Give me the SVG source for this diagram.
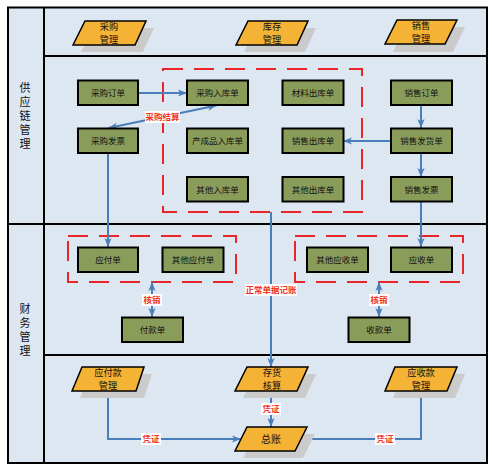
<svg xmlns="http://www.w3.org/2000/svg" width="492" height="466" viewBox="0 0 492 466">
<style>
.frame{fill:none;stroke:#000;stroke-width:2}
.sh{fill:#CBCBCB}
.para{fill:#F5B335;stroke:#000;stroke-width:1.5}
.box{fill:#8A9C5A;stroke:#000;stroke-width:2}
.pt{font-family:"Noto Sans CJK SC",sans-serif;font-size:9.2px;fill:#111;text-anchor:middle}
.pt1{font-family:"Noto Sans CJK SC",sans-serif;font-size:10px;fill:#111;text-anchor:middle}
.bt{font-family:"Noto Sans CJK SC",sans-serif;font-size:8.5px;fill:#111;text-anchor:middle}
.lt{font-family:"Noto Sans CJK SC",sans-serif;font-size:11px;fill:#111;writing-mode:vertical-rl;letter-spacing:3px}
.lab{font-family:"Noto Sans CJK SC",sans-serif;font-size:8.5px;font-weight:bold;fill:#F0361E;text-anchor:middle}
.lbg{fill:#fff}
.dash{fill:none;stroke:#E8262A;stroke-width:2;stroke-dasharray:20 11}
.c{fill:none;stroke:#4A7EBB;stroke-width:2}
.a{marker-end:url(#arr)}
.ab{marker-end:url(#arr);marker-start:url(#arr)}
</style>
<defs>
<marker id="arr" viewBox="0 0 10 8" refX="10" refY="4" markerWidth="9" markerHeight="7.2" markerUnits="userSpaceOnUse" orient="auto-start-reverse">
<path d="M0,0 L10,4 L0,8 L2.5,4 z" fill="#4A7EBB"/>
</marker>
</defs>
<g id="background">
<rect x="8" y="7.5" width="479" height="455.5" fill="#DDE7F2"/>
<rect x="8" y="7.5" width="479" height="455.5" class="frame"/>
<line x1="44" y1="7.5" x2="44" y2="463" class="frame"/>
<line x1="44" y1="56" x2="487" y2="56" class="frame"/>
<line x1="8" y1="224" x2="487" y2="224" class="frame"/>
<line x1="44" y1="355" x2="487" y2="355" class="frame"/>
</g>
<g id="lane-supply">
<text class="lt" x="25" y="82.5">供应链管理</text>
</g>
<g id="lane-finance">
<text class="lt" x="25" y="303.5">财务管理</text>
</g>
<g id="groups">
<rect class="dash" x="163" y="69" width="199" height="143"/>
<rect class="dash" x="68" y="236" width="168" height="46"/>
<rect class="dash" x="295" y="236" width="168" height="46"/>
</g>
<g id="connectors">
<line class="c a" x1="138" y1="93" x2="187" y2="93"/>
<line class="c ab" x1="216.5" y1="105.5" x2="108.5" y2="128"/>
<line class="c a" x1="108" y1="153" x2="108" y2="247"/>
<line class="c a" x1="421" y1="105" x2="421" y2="128"/>
<line class="c a" x1="391" y1="141" x2="343" y2="141"/>
<line class="c a" x1="421" y1="153" x2="421" y2="177"/>
<line class="c a" x1="421" y1="202" x2="421" y2="247"/>
<line class="c a" x1="271" y1="212" x2="271" y2="367"/>
<line class="c ab" x1="152" y1="282" x2="152" y2="317"/>
<line class="c ab" x1="379" y1="282" x2="379" y2="317"/>
<polyline class="c a" points="108,391 108,439 241,439"/>
<line class="c a" x1="271" y1="391" x2="271" y2="427"/>
<polyline class="c a" points="421,391 421,439 302,439"/>
<rect class="lbg" x="145" y="111" width="35" height="12"/>
<text class="lab" x="162.5" y="120">采购结算</text>
<rect class="lbg" x="245" y="284" width="52" height="12"/>
<text class="lab" x="271" y="293">正常单据记账</text>
<rect class="lbg" x="142" y="294" width="20" height="12"/>
<text class="lab" x="152" y="303">核销</text>
<rect class="lbg" x="369" y="294" width="20" height="12"/>
<text class="lab" x="379" y="303">核销</text>
<rect class="lbg" x="141" y="433" width="20" height="12"/>
<text class="lab" x="151" y="442">凭证</text>
<rect class="lbg" x="261" y="403" width="20" height="12"/>
<text class="lab" x="271" y="412">凭证</text>
<rect class="lbg" x="375" y="433" width="20" height="12"/>
<text class="lab" x="385" y="442">凭证</text>
</g>
<g id="n-caigou-mgmt">
<polygon class="sh" points="93,28 154,28 143,52 81,52"/>
<polygon class="para" points="85,21 146,21 135,45 73,45"/>
<text class="pt" x="109" y="29.8">采购<tspan x="109" dy="13.4">管理</tspan></text>
</g>
<g id="n-kucun-mgmt">
<polygon class="sh" points="256,28 316,28 305,52 244,52"/>
<polygon class="para" points="248,21 308,21 297,45 236,45"/>
<text class="pt" x="272" y="29.8">库存<tspan x="272" dy="13.4">管理</tspan></text>
</g>
<g id="n-xiaoshou-mgmt">
<polygon class="sh" points="405,27 465,27 453,52 393,52"/>
<polygon class="para" points="397,20 457,20 445,44 385,44"/>
<text class="pt" x="421" y="28.8">销售<tspan x="421" dy="13.4">管理</tspan></text>
</g>
<g id="n-cgdd"><rect class="box" x="78" y="80.5" width="60" height="24.5"/><text class="bt" x="108" y="96">采购订单</text></g>
<g id="n-cgrkd"><rect class="box" x="187" y="80.5" width="61" height="24.5"/><text class="bt" x="217.5" y="96">采购入库单</text></g>
<g id="n-cgfp"><rect class="box" x="78" y="128.5" width="60" height="24.5"/><text class="bt" x="108" y="144">采购发票</text></g>
<g id="n-ccprkd"><rect class="box" x="187" y="128.5" width="61" height="24.5"/><text class="bt" x="217.5" y="144">产成品入库单</text></g>
<g id="n-qtrkd"><rect class="box" x="187" y="177" width="61" height="24.5"/><text class="bt" x="217.5" y="192.5">其他入库单</text></g>
<g id="n-clckd"><rect class="box" x="282.5" y="80.5" width="61" height="24.5"/><text class="bt" x="313" y="96">材料出库单</text></g>
<g id="n-xsckd"><rect class="box" x="282.5" y="128.5" width="61" height="24.5"/><text class="bt" x="313" y="144">销售出库单</text></g>
<g id="n-qtckd"><rect class="box" x="282.5" y="177" width="61" height="24.5"/><text class="bt" x="313" y="192.5">其他出库单</text></g>
<g id="n-xsdd"><rect class="box" x="391" y="80.5" width="61" height="24.5"/><text class="bt" x="421.5" y="96">销售订单</text></g>
<g id="n-xsfhd"><rect class="box" x="391" y="128.5" width="61" height="24.5"/><text class="bt" x="421.5" y="144">销售发货单</text></g>
<g id="n-xsfp"><rect class="box" x="391" y="177" width="61" height="24.5"/><text class="bt" x="421.5" y="192.5">销售发票</text></g>
<g id="n-yfd"><rect class="box" x="78" y="247.5" width="60" height="24.5"/><text class="bt" x="108" y="263">应付单</text></g>
<g id="n-qtyfd"><rect class="box" x="162.5" y="247.5" width="61" height="24.5"/><text class="bt" x="193" y="263">其他应付单</text></g>
<g id="n-fkd"><rect class="box" x="122" y="317.5" width="61" height="24.5"/><text class="bt" x="152.5" y="333">付款单</text></g>
<g id="n-qtysd"><rect class="box" x="307" y="247.5" width="61" height="24.5"/><text class="bt" x="337.5" y="263">其他应收单</text></g>
<g id="n-ysd"><rect class="box" x="391" y="247.5" width="61" height="24.5"/><text class="bt" x="421.5" y="263">应收单</text></g>
<g id="n-skd"><rect class="box" x="348.5" y="317.5" width="61" height="24.5"/><text class="bt" x="379" y="333">收款单</text></g>
<g id="n-yfk-mgmt">
<polygon class="sh" points="90,374 152,374 144,398 80,398"/>
<polygon class="para" points="82,367 144,367 136,391 72,391"/>
<text class="pt" x="108" y="375.8">应付款<tspan x="108" dy="13.4">管理</tspan></text>
</g>
<g id="n-chhs">
<polygon class="sh" points="255,374 316,374 305,398 243,398"/>
<polygon class="para" points="247,367 308,367 297,391 235,391"/>
<text class="pt" x="272" y="375.8">存货<tspan x="272" dy="13.4">核算</tspan></text>
</g>
<g id="n-ysk-mgmt">
<polygon class="sh" points="403,374 465,374 455,398 393,398"/>
<polygon class="para" points="395,367 457,367 447,391 385,391"/>
<text class="pt" x="421" y="375.8">应收款<tspan x="421" dy="13.4">管理</tspan></text>
</g>
<g id="n-zongzhang">
<polygon class="sh" points="255,434 315,434 303,458 243,458"/>
<polygon class="para" points="247,427 307,427 295,451 235,451"/>
<text class="pt1" x="271" y="442.5">总账</text>
</g>
</svg>
